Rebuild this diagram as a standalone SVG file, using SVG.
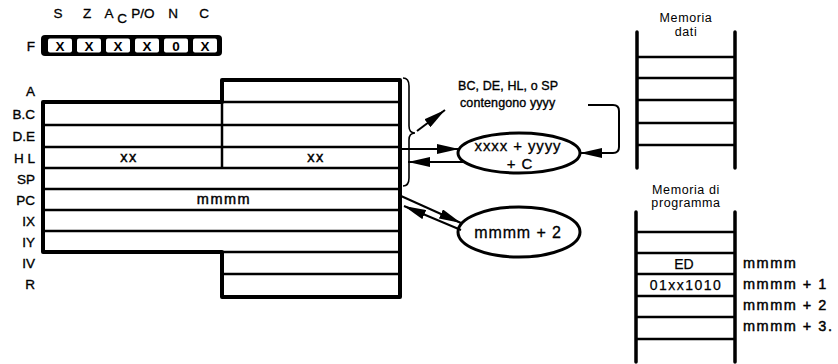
<svg xmlns="http://www.w3.org/2000/svg" width="838" height="364" viewBox="0 0 838 364">
<defs>
<style>
text{font-family:"Liberation Sans",Arial,sans-serif;fill:#000}
.lbl{font-size:13.5px;text-anchor:end;stroke:#000;stroke-width:0.35}
.flg{font-size:13.5px;text-anchor:middle;stroke:#000;stroke-width:0.3}
.cell{font-size:13.5px;font-weight:bold;text-anchor:middle}
.val{font-size:14.5px;text-anchor:middle;letter-spacing:1.5px;stroke:#000;stroke-width:0.45}
.oval-t{font-size:15px;text-anchor:middle;letter-spacing:0.9px;stroke:#000;stroke-width:0.3}
.note{font-size:12.5px;letter-spacing:0.1px;stroke:#000;stroke-width:0.35}
.ttl{font-size:12.5px;text-anchor:middle;letter-spacing:0.6px}
.addr{font-size:14.5px;letter-spacing:1.5px;stroke:#000;stroke-width:0.45}
.mem{font-size:14px;text-anchor:middle;stroke:#000;stroke-width:0.25}
.outline{fill:#fff;stroke:#000;stroke-width:4;stroke-linejoin:round}
.sep{stroke:#000;stroke-width:2.5;fill:none}
.rail{stroke:#000;stroke-width:3.5;stroke-linecap:round;fill:none}
.conn{stroke:#000;stroke-width:2;fill:none}
.oval{fill:#fff;stroke:#000;stroke-width:3}
</style>
<marker id="ah" viewBox="0 0 22 10" refX="22" refY="5" markerWidth="22" markerHeight="10" markerUnits="userSpaceOnUse" orient="auto">
<path d="M0,0 L22,5 L0,10 Z" fill="#000"/>
</marker>
</defs>
<rect width="838" height="364" fill="#fff"/>

<g id="flags">
<text class="flg" x="58" y="18">S</text>
<text class="flg" x="87" y="18">Z</text>
<text class="flg" x="109" y="18">A</text>
<text class="flg" x="122" y="23">C</text>
<text class="flg" x="143" y="18">P/O</text>
<text class="flg" x="173" y="18">N</text>
<text class="flg" x="204" y="18">C</text>
<text class="lbl" x="35" y="51">F</text>
<rect x="41" y="35" width="181" height="21" rx="4" fill="#000"/>
<rect x="48" y="38.5" width="24" height="14" rx="2" fill="#fff"/>
<rect x="77" y="38.5" width="24" height="14" rx="2" fill="#fff"/>
<rect x="106" y="38.5" width="24" height="14" rx="2" fill="#fff"/>
<rect x="135" y="38.5" width="24" height="14" rx="2" fill="#fff"/>
<rect x="164" y="38.5" width="24" height="14" rx="2" fill="#fff"/>
<rect x="193" y="38.5" width="24" height="14" rx="2" fill="#fff"/>
<text class="cell" x="60" y="50.5">X</text>
<text class="cell" x="89" y="50.5">X</text>
<text class="cell" x="118" y="50.5">X</text>
<text class="cell" x="147" y="50.5">X</text>
<text class="cell" x="176" y="50.5">0</text>
<text class="cell" x="205" y="50.5">X</text>
</g>

<g id="registers">
<path class="outline" d="M43,102 H222 V80 H400 V297 H222 V252 H43 Z"/>
<path class="sep" d="M222,102 H400 M43,125 H400 M43,147 H400 M43,168 H400 M43,189 H400 M43,210 H400 M43,231 H400 M222,252 H400 M222,274 H400 M222,102 V168"/>
<text class="lbl" x="35" y="96">A</text>
<text class="lbl" x="35" y="119">B.C</text>
<text class="lbl" x="35" y="141">D.E</text>
<text class="lbl" x="35" y="163">H L</text>
<text class="lbl" x="35" y="184">SP</text>
<text class="lbl" x="35" y="205">PC</text>
<text class="lbl" x="35" y="226">IX</text>
<text class="lbl" x="35" y="247">IY</text>
<text class="lbl" x="35" y="268">IV</text>
<text class="lbl" x="35" y="289">R</text>
<text class="val" x="129" y="162">xx</text>
<text class="val" x="316" y="162">xx</text>
<text class="val" x="224" y="204">mmmm</text>
</g>

<g id="brace">
<path d="M403,78 Q409,78 409,86 V126 Q409,133 415,133 Q409,133 409,140 V178 Q409,186 403,186" fill="none" stroke="#000" stroke-width="1.6"/>
</g>

<g id="note">
<text class="note" x="458" y="90">BC, DE, HL, o SP</text>
<text class="note" x="460" y="107">contengono yyyy</text>
</g>

<g id="add">
<ellipse class="oval" cx="519" cy="153" rx="61" ry="20"/>
<text class="oval-t" x="518" y="151">xxxx + yyyy</text>
<text class="oval-t" x="520" y="168.5">+ C</text>
</g>

<g id="inc">
<ellipse class="oval" cx="519" cy="232" rx="61" ry="25"/>
<text class="oval-t" x="518" y="238" style="font-size:16px">mmmm + 2</text>
</g>

<g id="memdati">
<text class="ttl" x="686" y="22">Memoria</text>
<text class="ttl" x="686" y="36">dati</text>
<path class="rail" d="M637,32 V168 M735,32 V168"/>
<path class="sep" d="M637,57 H735 M637,78 H735 M637,100 H735 M637,123 H735 M637,145 H735"/>
</g>

<g id="memprog">
<text class="ttl" x="686" y="194">Memoria di</text>
<text class="ttl" x="686" y="207">programma</text>
<path class="rail" d="M636,212 V362 M735,212 V362"/>
<path class="sep" d="M636,232 H735 M636,253 H735 M636,274 H735 M636,296 H735 M636,317 H735 M636,339 H735"/>
<text class="mem" x="684" y="269">ED</text>
<text class="mem" x="686" y="290" letter-spacing="1.5">01xx1010</text>
<text class="addr" x="743" y="268">mmmm</text>
<text class="addr" x="743" y="289">mmmm + 1</text>
<text class="addr" x="743" y="310">mmmm + 2</text>
<text class="addr" x="743" y="331">mmmm + 3.</text>
</g>

<g id="connectors">
<line class="conn" x1="417" y1="131" x2="445" y2="110" marker-end="url(#ah)"/>
<line class="conn" x1="400" y1="149" x2="459" y2="149" marker-end="url(#ah)"/>
<line class="conn" x1="464" y1="162" x2="408" y2="162" marker-end="url(#ah)"/>
<path class="conn" d="M588,105 H613 Q619,105 619,111 V147 Q619,153 613,153 H580" marker-end="url(#ah)"/>
<line class="conn" x1="401" y1="196" x2="461" y2="223" marker-end="url(#ah)"/>
<line class="conn" x1="461" y1="230" x2="404" y2="206" marker-end="url(#ah)"/>
</g>
</svg>
